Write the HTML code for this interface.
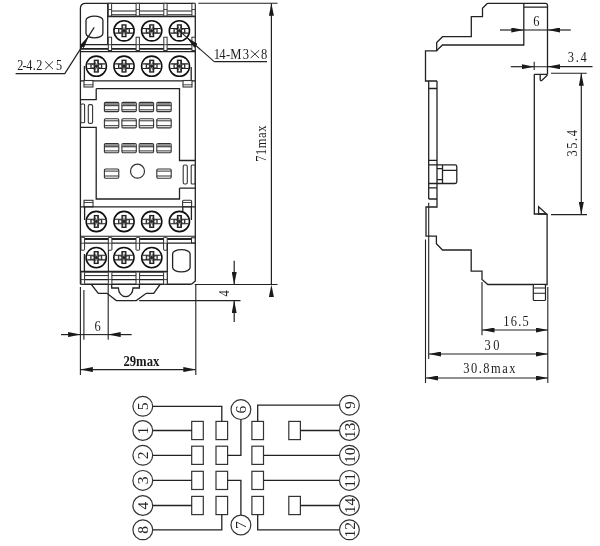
<!DOCTYPE html>
<html><head><meta charset="utf-8"><style>
html,body{margin:0;padding:0;background:#fff;}
body{width:600px;height:546px;overflow:hidden;}
svg{display:block;font-family:"Liberation Serif",serif;filter:grayscale(1);}
</style></head><body>
<svg width="600" height="546" viewBox="0 0 600 546">


<defs>
 
 
 
 <marker id="ar" viewBox="0 0 12.5 5" refX="12.5" refY="2.5" markerWidth="12.5" markerHeight="5" markerUnits="userSpaceOnUse" orient="auto">
  <path d="M0,0 L12.5,2.5 L0,5 Z" fill="#1a1a1a"/>
 </marker>
</defs>

<path d="M80.4,8.5 Q80.4,3.3 85.6,3.3 H193 Q195.3,3.3 195.3,5.6 V281 L191.5,284.2 M80.4,8.5 V284.3" fill="none" stroke="#222" stroke-width="1.3"/>
<path d="M107.7,3.3 V44.7" fill="none" stroke="#222" stroke-width="1.3"/>
<path d="M107.7,16.6 H195.3" fill="none" stroke="#222" stroke-width="1.4"/>
<path d="M111.5,11 H136 M139.5,11 H163.8 M167.2,11 H191.9" fill="none" stroke="#222" stroke-width="1.0"/>
<path d="M111.5,14.9 H136 M139.5,14.9 H163.8 M167.2,14.9 H191.9" fill="none" stroke="#222" stroke-width="1.4"/>
<rect x="108.3" y="3.3" width="3.3" height="12.7" fill="#fff" stroke="#333" stroke-width="1"/>
<path d="M108.3,9.5 H111.6" stroke="#333" stroke-width="0.9"/>
<rect x="136.1" y="3.3" width="3.3" height="12.7" fill="#fff" stroke="#333" stroke-width="1"/>
<path d="M136.1,9.5 H139.4" stroke="#333" stroke-width="0.9"/>
<rect x="163.8" y="3.3" width="3.3" height="12.7" fill="#fff" stroke="#333" stroke-width="1"/>
<path d="M163.8,9.5 H167.10000000000002" stroke="#333" stroke-width="0.9"/>
<rect x="191.9" y="3.3" width="3.3" height="12.7" fill="#fff" stroke="#333" stroke-width="1"/>
<path d="M191.9,9.5 H195.20000000000002" stroke="#333" stroke-width="0.9"/>
<g transform="translate(124.0,30.8)"><circle cx="0" cy="0" r="10.1" fill="#fff" stroke="#111" stroke-width="1.6"/>
  <path d="M-8.9,-2.3 H-2 M2,-2.3 H8.9 M-8.9,2.3 H-2 M2,2.3 H8.9" stroke="#1e1e1e" stroke-width="1.1"/>
  <path d="M-5.3,-2.3 V2.3 M5.3,-2.3 V2.3" stroke="#333" stroke-width="1.4"/>
  <rect x="-1.85" y="-5.85" width="3.7" height="11.6" fill="none" stroke="#1e1e1e" stroke-width="1.4"/>
  <path d="M-1.8,-5.6 L1.8,5.6 M1.8,-5.6 L-1.8,5.6 M-5.2,-2.2 L5.2,2.2 M5.2,-2.2 L-5.2,2.2" stroke="#333" stroke-width="0.8"/>
  <circle cx="0" cy="0" r="1.3" fill="#222"/></g>
<g transform="translate(151.7,30.8)"><circle cx="0" cy="0" r="10.1" fill="#fff" stroke="#111" stroke-width="1.6"/>
  <path d="M-8.9,-2.3 H-2 M2,-2.3 H8.9 M-8.9,2.3 H-2 M2,2.3 H8.9" stroke="#1e1e1e" stroke-width="1.1"/>
  <path d="M-5.3,-2.3 V2.3 M5.3,-2.3 V2.3" stroke="#333" stroke-width="1.4"/>
  <rect x="-1.85" y="-5.85" width="3.7" height="11.6" fill="none" stroke="#1e1e1e" stroke-width="1.4"/>
  <path d="M-1.8,-5.6 L1.8,5.6 M1.8,-5.6 L-1.8,5.6 M-5.2,-2.2 L5.2,2.2 M5.2,-2.2 L-5.2,2.2" stroke="#333" stroke-width="0.8"/>
  <circle cx="0" cy="0" r="1.3" fill="#222"/></g>
<g transform="translate(179.4,30.8)"><circle cx="0" cy="0" r="10.1" fill="#fff" stroke="#111" stroke-width="1.6"/>
  <path d="M-8.9,-2.3 H-2 M2,-2.3 H8.9 M-8.9,2.3 H-2 M2,2.3 H8.9" stroke="#1e1e1e" stroke-width="1.1"/>
  <path d="M-5.3,-2.3 V2.3 M5.3,-2.3 V2.3" stroke="#333" stroke-width="1.4"/>
  <rect x="-1.85" y="-5.85" width="3.7" height="11.6" fill="none" stroke="#1e1e1e" stroke-width="1.4"/>
  <path d="M-1.8,-5.6 L1.8,5.6 M1.8,-5.6 L-1.8,5.6 M-5.2,-2.2 L5.2,2.2 M5.2,-2.2 L-5.2,2.2" stroke="#333" stroke-width="0.8"/>
  <circle cx="0" cy="0" r="1.3" fill="#222"/></g>
<path d="M86,20.3 A8.45,4.2 0 0 1 102.9,20.3 V33.6 A8.45,4.2 0 0 1 86,33.6 Z" fill="none" stroke="#222" stroke-width="1.3"/>
<path d="M80.4,44.6 H195.3" fill="none" stroke="#222" stroke-width="1.1"/>
<path d="M80.4,48.8 H195.3" fill="none" stroke="#222" stroke-width="1.8"/>
<path d="M80.4,51.6 H195.3" fill="none" stroke="#222" stroke-width="1.1"/>
<rect x="108.3" y="37.2" width="3.3" height="13.3" fill="#fff" stroke="#333" stroke-width="1"/>
<path d="M108.3,44.7 H111.6" stroke="#333" stroke-width="0.9"/>
<rect x="136.1" y="37.2" width="3.3" height="13.3" fill="#fff" stroke="#333" stroke-width="1"/>
<path d="M136.1,44.7 H139.4" stroke="#333" stroke-width="0.9"/>
<rect x="163.8" y="37.2" width="3.3" height="13.3" fill="#fff" stroke="#333" stroke-width="1"/>
<path d="M163.8,44.7 H167.10000000000002" stroke="#333" stroke-width="0.9"/>
<rect x="191.9" y="37.2" width="3.3" height="13.3" fill="#fff" stroke="#333" stroke-width="1"/>
<path d="M191.9,44.7 H195.20000000000002" stroke="#333" stroke-width="0.9"/>
<g transform="translate(96.3,66.2)"><circle cx="0" cy="0" r="10.1" fill="#fff" stroke="#111" stroke-width="1.6"/>
  <path d="M-8.9,-2.3 H-2 M2,-2.3 H8.9 M-8.9,2.3 H-2 M2,2.3 H8.9" stroke="#1e1e1e" stroke-width="1.1"/>
  <path d="M-5.3,-2.3 V2.3 M5.3,-2.3 V2.3" stroke="#333" stroke-width="1.4"/>
  <rect x="-1.85" y="-5.85" width="3.7" height="11.6" fill="none" stroke="#1e1e1e" stroke-width="1.4"/>
  <path d="M-1.8,-5.6 L1.8,5.6 M1.8,-5.6 L-1.8,5.6 M-5.2,-2.2 L5.2,2.2 M5.2,-2.2 L-5.2,2.2" stroke="#333" stroke-width="0.8"/>
  <circle cx="0" cy="0" r="1.3" fill="#222"/></g>
<g transform="translate(124.0,66.2)"><circle cx="0" cy="0" r="10.1" fill="#fff" stroke="#111" stroke-width="1.6"/>
  <path d="M-8.9,-2.3 H-2 M2,-2.3 H8.9 M-8.9,2.3 H-2 M2,2.3 H8.9" stroke="#1e1e1e" stroke-width="1.1"/>
  <path d="M-5.3,-2.3 V2.3 M5.3,-2.3 V2.3" stroke="#333" stroke-width="1.4"/>
  <rect x="-1.85" y="-5.85" width="3.7" height="11.6" fill="none" stroke="#1e1e1e" stroke-width="1.4"/>
  <path d="M-1.8,-5.6 L1.8,5.6 M1.8,-5.6 L-1.8,5.6 M-5.2,-2.2 L5.2,2.2 M5.2,-2.2 L-5.2,2.2" stroke="#333" stroke-width="0.8"/>
  <circle cx="0" cy="0" r="1.3" fill="#222"/></g>
<g transform="translate(151.7,66.2)"><circle cx="0" cy="0" r="10.1" fill="#fff" stroke="#111" stroke-width="1.6"/>
  <path d="M-8.9,-2.3 H-2 M2,-2.3 H8.9 M-8.9,2.3 H-2 M2,2.3 H8.9" stroke="#1e1e1e" stroke-width="1.1"/>
  <path d="M-5.3,-2.3 V2.3 M5.3,-2.3 V2.3" stroke="#333" stroke-width="1.4"/>
  <rect x="-1.85" y="-5.85" width="3.7" height="11.6" fill="none" stroke="#1e1e1e" stroke-width="1.4"/>
  <path d="M-1.8,-5.6 L1.8,5.6 M1.8,-5.6 L-1.8,5.6 M-5.2,-2.2 L5.2,2.2 M5.2,-2.2 L-5.2,2.2" stroke="#333" stroke-width="0.8"/>
  <circle cx="0" cy="0" r="1.3" fill="#222"/></g>
<g transform="translate(179.4,66.2)"><circle cx="0" cy="0" r="10.1" fill="#fff" stroke="#111" stroke-width="1.6"/>
  <path d="M-8.9,-2.3 H-2 M2,-2.3 H8.9 M-8.9,2.3 H-2 M2,2.3 H8.9" stroke="#1e1e1e" stroke-width="1.1"/>
  <path d="M-5.3,-2.3 V2.3 M5.3,-2.3 V2.3" stroke="#333" stroke-width="1.4"/>
  <rect x="-1.85" y="-5.85" width="3.7" height="11.6" fill="none" stroke="#1e1e1e" stroke-width="1.4"/>
  <path d="M-1.8,-5.6 L1.8,5.6 M1.8,-5.6 L-1.8,5.6 M-5.2,-2.2 L5.2,2.2 M5.2,-2.2 L-5.2,2.2" stroke="#333" stroke-width="0.8"/>
  <circle cx="0" cy="0" r="1.3" fill="#222"/></g>
<path d="M84.4,66 V80.8 M80.4,80.8 H195.3 M191.2,67 V80.8" fill="none" stroke="#222" stroke-width="1.3"/>
<rect x="84" y="80.5" width="9" height="6.5" fill="#fff" stroke="#333" stroke-width="1.1"/>
<path d="M84,84.8 H93" stroke="#333" stroke-width="0.9"/>
<rect x="183" y="80.5" width="9" height="6.5" fill="#fff" stroke="#333" stroke-width="1.1"/>
<path d="M183,84.8 H192" stroke="#333" stroke-width="0.9"/>
<path d="M96.2,88.7 H179.5 V160.5 H195.3 M179.5,188.2 H195.3 M179.5,188.2 V199 H96.2 V127.4 H80.4 M96.2,88.7 V99.6 H80.4" fill="none" stroke="#222" stroke-width="1.3"/>
<rect x="80.8" y="104" width="3.8" height="18.8" rx="1" fill="#fff" stroke="#333" stroke-width="1.1"/>
<rect x="88.3" y="104.6" width="4.3" height="18.8" rx="1.5" fill="#fff" stroke="#333" stroke-width="1.1"/>
<rect x="183.2" y="165" width="4.1" height="19" rx="1.5" fill="#fff" stroke="#333" stroke-width="1.1"/>
<rect x="191.2" y="165" width="3.8" height="19" rx="1" fill="#fff" stroke="#333" stroke-width="1.1"/>
<g transform="translate(104.4,102.4)"><rect x="0" y="0" width="14.4" height="9.2" rx="1.2" fill="#fff" stroke="#333" stroke-width="1.1"/>
  <rect x="0.6" y="0.6" width="13.2" height="2.6" fill="#888"/>
  <path d="M0,3.3 H14.4 M0,7.4 H14.4" stroke="#333" stroke-width="1"/></g>
<g transform="translate(104.4,118.7)"><rect x="0" y="0" width="14.4" height="9.2" rx="1.2" fill="#fff" stroke="#333" stroke-width="1.1"/>
  <path d="M0,2.1 H14.4 M0,7.0 H14.4" stroke="#333" stroke-width="1"/></g>
<g transform="translate(104.4,143.5)"><rect x="0" y="0" width="14.4" height="9.2" rx="1.2" fill="#fff" stroke="#333" stroke-width="1.1"/>
  <rect x="0.6" y="0.6" width="13.2" height="2.6" fill="#888"/>
  <path d="M0,3.3 H14.4 M0,7.4 H14.4" stroke="#333" stroke-width="1"/></g>
<g transform="translate(121.9,102.4)"><rect x="0" y="0" width="14.4" height="9.2" rx="1.2" fill="#fff" stroke="#333" stroke-width="1.1"/>
  <rect x="0.6" y="0.6" width="13.2" height="2.6" fill="#888"/>
  <path d="M0,3.3 H14.4 M0,7.4 H14.4" stroke="#333" stroke-width="1"/></g>
<g transform="translate(121.9,118.7)"><rect x="0" y="0" width="14.4" height="9.2" rx="1.2" fill="#fff" stroke="#333" stroke-width="1.1"/>
  <path d="M0,2.1 H14.4 M0,7.0 H14.4" stroke="#333" stroke-width="1"/></g>
<g transform="translate(121.9,143.5)"><rect x="0" y="0" width="14.4" height="9.2" rx="1.2" fill="#fff" stroke="#333" stroke-width="1.1"/>
  <rect x="0.6" y="0.6" width="13.2" height="2.6" fill="#888"/>
  <path d="M0,3.3 H14.4 M0,7.4 H14.4" stroke="#333" stroke-width="1"/></g>
<g transform="translate(139.2,102.4)"><rect x="0" y="0" width="14.4" height="9.2" rx="1.2" fill="#fff" stroke="#333" stroke-width="1.1"/>
  <rect x="0.6" y="0.6" width="13.2" height="2.6" fill="#888"/>
  <path d="M0,3.3 H14.4 M0,7.4 H14.4" stroke="#333" stroke-width="1"/></g>
<g transform="translate(139.2,118.7)"><rect x="0" y="0" width="14.4" height="9.2" rx="1.2" fill="#fff" stroke="#333" stroke-width="1.1"/>
  <path d="M0,2.1 H14.4 M0,7.0 H14.4" stroke="#333" stroke-width="1"/></g>
<g transform="translate(139.2,143.5)"><rect x="0" y="0" width="14.4" height="9.2" rx="1.2" fill="#fff" stroke="#333" stroke-width="1.1"/>
  <rect x="0.6" y="0.6" width="13.2" height="2.6" fill="#888"/>
  <path d="M0,3.3 H14.4 M0,7.4 H14.4" stroke="#333" stroke-width="1"/></g>
<g transform="translate(156.8,102.4)"><rect x="0" y="0" width="14.4" height="9.2" rx="1.2" fill="#fff" stroke="#333" stroke-width="1.1"/>
  <rect x="0.6" y="0.6" width="13.2" height="2.6" fill="#888"/>
  <path d="M0,3.3 H14.4 M0,7.4 H14.4" stroke="#333" stroke-width="1"/></g>
<g transform="translate(156.8,118.7)"><rect x="0" y="0" width="14.4" height="9.2" rx="1.2" fill="#fff" stroke="#333" stroke-width="1.1"/>
  <path d="M0,2.1 H14.4 M0,7.0 H14.4" stroke="#333" stroke-width="1"/></g>
<g transform="translate(156.8,143.5)"><rect x="0" y="0" width="14.4" height="9.2" rx="1.2" fill="#fff" stroke="#333" stroke-width="1.1"/>
  <rect x="0.6" y="0.6" width="13.2" height="2.6" fill="#888"/>
  <path d="M0,3.3 H14.4 M0,7.4 H14.4" stroke="#333" stroke-width="1"/></g>
<g transform="translate(104.4,169)"><rect x="0" y="0" width="14.4" height="9.2" rx="1.2" fill="#fff" stroke="#333" stroke-width="1.1"/>
  <path d="M0,2.1 H14.4 M0,7.0 H14.4" stroke="#333" stroke-width="1"/></g>
<g transform="translate(156.8,169)"><rect x="0" y="0" width="14.4" height="9.2" rx="1.2" fill="#fff" stroke="#333" stroke-width="1.1"/>
  <path d="M0,2.1 H14.4 M0,7.0 H14.4" stroke="#333" stroke-width="1"/></g>
<circle cx="137.5" cy="171.2" r="7" fill="none" stroke="#333" stroke-width="1.2"/>
<rect x="84" y="200.3" width="9" height="6.5" fill="#fff" stroke="#333" stroke-width="1.1"/>
<path d="M84,202.5 H93" stroke="#333" stroke-width="0.9"/>
<rect x="182.6" y="200.3" width="9" height="6.5" rx="1" fill="#fff" stroke="#333" stroke-width="1.1"/>
<path d="M183,202.5 H192" stroke="#333" stroke-width="0.9"/>
<path d="M80.4,206.9 H195.3" fill="none" stroke="#222" stroke-width="1.3"/>
<path d="M84.6,206.9 V220 M191.4,206.9 V220 M182.8,206.9 V211.5" fill="none" stroke="#222" stroke-width="1.3"/>
<g transform="translate(96.3,221.5)"><circle cx="0" cy="0" r="10.1" fill="#fff" stroke="#111" stroke-width="1.6"/>
  <path d="M-8.9,-2.3 H-2 M2,-2.3 H8.9 M-8.9,2.3 H-2 M2,2.3 H8.9" stroke="#1e1e1e" stroke-width="1.1"/>
  <path d="M-5.3,-2.3 V2.3 M5.3,-2.3 V2.3" stroke="#333" stroke-width="1.4"/>
  <rect x="-1.85" y="-5.85" width="3.7" height="11.6" fill="none" stroke="#1e1e1e" stroke-width="1.4"/>
  <path d="M-1.8,-5.6 L1.8,5.6 M1.8,-5.6 L-1.8,5.6 M-5.2,-2.2 L5.2,2.2 M5.2,-2.2 L-5.2,2.2" stroke="#333" stroke-width="0.8"/>
  <circle cx="0" cy="0" r="1.3" fill="#222"/></g>
<g transform="translate(124.0,221.5)"><circle cx="0" cy="0" r="10.1" fill="#fff" stroke="#111" stroke-width="1.6"/>
  <path d="M-8.9,-2.3 H-2 M2,-2.3 H8.9 M-8.9,2.3 H-2 M2,2.3 H8.9" stroke="#1e1e1e" stroke-width="1.1"/>
  <path d="M-5.3,-2.3 V2.3 M5.3,-2.3 V2.3" stroke="#333" stroke-width="1.4"/>
  <rect x="-1.85" y="-5.85" width="3.7" height="11.6" fill="none" stroke="#1e1e1e" stroke-width="1.4"/>
  <path d="M-1.8,-5.6 L1.8,5.6 M1.8,-5.6 L-1.8,5.6 M-5.2,-2.2 L5.2,2.2 M5.2,-2.2 L-5.2,2.2" stroke="#333" stroke-width="0.8"/>
  <circle cx="0" cy="0" r="1.3" fill="#222"/></g>
<g transform="translate(151.7,221.5)"><circle cx="0" cy="0" r="10.1" fill="#fff" stroke="#111" stroke-width="1.6"/>
  <path d="M-8.9,-2.3 H-2 M2,-2.3 H8.9 M-8.9,2.3 H-2 M2,2.3 H8.9" stroke="#1e1e1e" stroke-width="1.1"/>
  <path d="M-5.3,-2.3 V2.3 M5.3,-2.3 V2.3" stroke="#333" stroke-width="1.4"/>
  <rect x="-1.85" y="-5.85" width="3.7" height="11.6" fill="none" stroke="#1e1e1e" stroke-width="1.4"/>
  <path d="M-1.8,-5.6 L1.8,5.6 M1.8,-5.6 L-1.8,5.6 M-5.2,-2.2 L5.2,2.2 M5.2,-2.2 L-5.2,2.2" stroke="#333" stroke-width="0.8"/>
  <circle cx="0" cy="0" r="1.3" fill="#222"/></g>
<g transform="translate(179.4,221.5)"><circle cx="0" cy="0" r="10.1" fill="#fff" stroke="#111" stroke-width="1.6"/>
  <path d="M-8.9,-2.3 H-2 M2,-2.3 H8.9 M-8.9,2.3 H-2 M2,2.3 H8.9" stroke="#1e1e1e" stroke-width="1.1"/>
  <path d="M-5.3,-2.3 V2.3 M5.3,-2.3 V2.3" stroke="#333" stroke-width="1.4"/>
  <rect x="-1.85" y="-5.85" width="3.7" height="11.6" fill="none" stroke="#1e1e1e" stroke-width="1.4"/>
  <path d="M-1.8,-5.6 L1.8,5.6 M1.8,-5.6 L-1.8,5.6 M-5.2,-2.2 L5.2,2.2 M5.2,-2.2 L-5.2,2.2" stroke="#333" stroke-width="0.8"/>
  <circle cx="0" cy="0" r="1.3" fill="#222"/></g>
<path d="M80.4,236.3 H195.3" fill="none" stroke="#222" stroke-width="1.1"/>
<path d="M80.4,238.9 H195.3" fill="none" stroke="#222" stroke-width="2.0"/>
<path d="M80.4,243.2 H195.3" fill="none" stroke="#222" stroke-width="1.2"/>
<rect x="81.0" y="237.3" width="3.6" height="12.9" rx="0.6" fill="#fff" stroke="#2a2a2a" stroke-width="1"/>
<path d="M81.0,243.2 H84.6" stroke="#333" stroke-width="0.9"/>
<rect x="108.3" y="237.3" width="3.6" height="12.9" rx="0.6" fill="#fff" stroke="#2a2a2a" stroke-width="1"/>
<path d="M108.3,243.2 H111.89999999999999" stroke="#333" stroke-width="0.9"/>
<rect x="136.0" y="237.3" width="3.6" height="12.9" rx="0.6" fill="#fff" stroke="#2a2a2a" stroke-width="1"/>
<path d="M136.0,243.2 H139.6" stroke="#333" stroke-width="0.9"/>
<rect x="163.6" y="237.3" width="3.6" height="12.9" rx="0.6" fill="#fff" stroke="#2a2a2a" stroke-width="1"/>
<path d="M163.6,243.2 H167.2" stroke="#333" stroke-width="0.9"/>
<rect x="191.5" y="237.8" width="3.6" height="5" fill="#fff" stroke="#2a2a2a" stroke-width="1"/>
<path d="M167.3,243.2 V284.3" fill="none" stroke="#222" stroke-width="1.3"/>
<g transform="translate(96.2,257.6)"><circle cx="0" cy="0" r="10.1" fill="#fff" stroke="#111" stroke-width="1.6"/>
  <path d="M-8.9,-2.3 H-2 M2,-2.3 H8.9 M-8.9,2.3 H-2 M2,2.3 H8.9" stroke="#1e1e1e" stroke-width="1.1"/>
  <path d="M-5.3,-2.3 V2.3 M5.3,-2.3 V2.3" stroke="#333" stroke-width="1.4"/>
  <rect x="-1.85" y="-5.85" width="3.7" height="11.6" fill="none" stroke="#1e1e1e" stroke-width="1.4"/>
  <path d="M-1.8,-5.6 L1.8,5.6 M1.8,-5.6 L-1.8,5.6 M-5.2,-2.2 L5.2,2.2 M5.2,-2.2 L-5.2,2.2" stroke="#333" stroke-width="0.8"/>
  <circle cx="0" cy="0" r="1.3" fill="#222"/></g>
<g transform="translate(123.9,257.6)"><circle cx="0" cy="0" r="10.1" fill="#fff" stroke="#111" stroke-width="1.6"/>
  <path d="M-8.9,-2.3 H-2 M2,-2.3 H8.9 M-8.9,2.3 H-2 M2,2.3 H8.9" stroke="#1e1e1e" stroke-width="1.1"/>
  <path d="M-5.3,-2.3 V2.3 M5.3,-2.3 V2.3" stroke="#333" stroke-width="1.4"/>
  <rect x="-1.85" y="-5.85" width="3.7" height="11.6" fill="none" stroke="#1e1e1e" stroke-width="1.4"/>
  <path d="M-1.8,-5.6 L1.8,5.6 M1.8,-5.6 L-1.8,5.6 M-5.2,-2.2 L5.2,2.2 M5.2,-2.2 L-5.2,2.2" stroke="#333" stroke-width="0.8"/>
  <circle cx="0" cy="0" r="1.3" fill="#222"/></g>
<g transform="translate(151.8,257.6)"><circle cx="0" cy="0" r="10.1" fill="#fff" stroke="#111" stroke-width="1.6"/>
  <path d="M-8.9,-2.3 H-2 M2,-2.3 H8.9 M-8.9,2.3 H-2 M2,2.3 H8.9" stroke="#1e1e1e" stroke-width="1.1"/>
  <path d="M-5.3,-2.3 V2.3 M5.3,-2.3 V2.3" stroke="#333" stroke-width="1.4"/>
  <rect x="-1.85" y="-5.85" width="3.7" height="11.6" fill="none" stroke="#1e1e1e" stroke-width="1.4"/>
  <path d="M-1.8,-5.6 L1.8,5.6 M1.8,-5.6 L-1.8,5.6 M-5.2,-2.2 L5.2,2.2 M5.2,-2.2 L-5.2,2.2" stroke="#333" stroke-width="0.8"/>
  <circle cx="0" cy="0" r="1.3" fill="#222"/></g>
<path d="M84.4,254 V271.5" fill="none" stroke="#222" stroke-width="1.3"/>
<path d="M108.4,250 V271.5" fill="none" stroke="#222" stroke-width="1.1"/>
<path d="M172.6,253.8 A8.75,4.2 0 0 1 190.1,253.8 V267.6 A8.75,4.2 0 0 1 172.6,267.6 Z" fill="none" stroke="#222" stroke-width="1.3"/>
<path d="M80.4,271.8 H167.3" fill="none" stroke="#222" stroke-width="2.0"/>
<path d="M80.4,275.6 H167.3" fill="none" stroke="#222" stroke-width="1.0"/>
<path d="M80.4,279.6 H167.3" fill="none" stroke="#222" stroke-width="1.2"/>
<path d="M80.4,284.2 H191.5" fill="none" stroke="#222" stroke-width="1.4"/>
<rect x="81.0" y="272" width="3.6" height="12.2" rx="0.6" fill="#fff" stroke="#2a2a2a" stroke-width="1"/>
<path d="M81.0,279.6 H84.6" stroke="#333" stroke-width="0.9"/>
<rect x="108.3" y="272" width="3.6" height="12.2" rx="0.6" fill="#fff" stroke="#2a2a2a" stroke-width="1"/>
<path d="M108.3,279.6 H111.89999999999999" stroke="#333" stroke-width="0.9"/>
<rect x="136.0" y="272" width="3.6" height="12.2" rx="0.6" fill="#fff" stroke="#2a2a2a" stroke-width="1"/>
<path d="M136.0,279.6 H139.6" stroke="#333" stroke-width="0.9"/>
<rect x="163.6" y="272" width="3.6" height="12.2" rx="0.6" fill="#fff" stroke="#2a2a2a" stroke-width="1"/>
<path d="M163.6,279.6 H167.2" stroke="#333" stroke-width="0.9"/>
<path d="M91.7,284.3 V285 L98.3,293.3 H107 L116.3,300.6 H136.3 L146.3,293.3 H153.7 L159.7,285 V284.3" fill="none" stroke="#222" stroke-width="1.3"/>
<path d="M111.7,284.3 V288 H118.4 A7.3,8.6 0 0 0 133,288 H139.4 V284.3" fill="none" stroke="#222" stroke-width="1.3"/>
<path d="M198.3,3.3 H277.5" fill="none" stroke="#222" stroke-width="1.1"/>
<path d="M194.7,284.5 H277.5" fill="none" stroke="#222" stroke-width="1.1"/>
<path d="M271.4,284.5 V3.3" fill="none" stroke="#222" stroke-width="1.2" marker-end="url(#ar)" marker-start="url(#ar)"/>
<text transform="translate(265.6,161.70000000000002) rotate(-90) scale(0.86,1)" font-family="Liberation Serif" font-size="14.5" fill="#1e1e1e" textLength="41.98" lengthAdjust="spacing">71max</text>
<path d="M139.2,300.6 H240.5" fill="none" stroke="#222" stroke-width="1.1"/>
<path d="M234.2,260.8 V284.5" fill="none" stroke="#222" stroke-width="1.2" marker-end="url(#ar)"/>
<path d="M234.2,322 V300.6" fill="none" stroke="#222" stroke-width="1.2" marker-end="url(#ar)"/>
<text transform="translate(229.2,296.59999999999997) rotate(-90) scale(0.86,1)" font-family="Liberation Serif" font-size="14.5" fill="#1e1e1e" textLength="8.14" lengthAdjust="spacing">4</text>
<path d="M80.4,287 V375 M83.9,290 V339.7 M108.2,284.3 V339.7" fill="none" stroke="#222" stroke-width="1.1"/>
<path d="M61,334.6 H80.6" fill="none" stroke="#222" stroke-width="1.2" marker-end="url(#ar)"/>
<path d="M131.7,334.6 H108.2" fill="none" stroke="#222" stroke-width="1.2" marker-end="url(#ar)"/>
<path d="M80.6,334.6 H108.2" fill="none" stroke="#222" stroke-width="1.1"/>
<text transform="translate(94.6,330.8) scale(0.86,1)" font-family="Liberation Serif" font-size="14.5" font-weight="normal" fill="#1e1e1e" textLength="8.14" lengthAdjust="spacing">6</text>
<path d="M195.8,284.5 V375" fill="none" stroke="#222" stroke-width="1.1"/>
<path d="M138,369.6 H80.4" fill="none" stroke="#222" stroke-width="1.2" marker-end="url(#ar)"/>
<path d="M138,369.6 H195.8" fill="none" stroke="#222" stroke-width="1.2" marker-end="url(#ar)"/>
<text x="123.4" y="365.7" font-family="Liberation Serif" font-size="14" font-weight="bold" fill="#1a1a1a" textLength="36" lengthAdjust="spacingAndGlyphs">29max</text>
<path d="M214.2,61.6 L179.4,30.8" fill="none" stroke="#222" stroke-width="1.1"/>
<path d="M200,49.4 L186.8,37.6" fill="none" stroke="#222" stroke-width="1" marker-end="url(#ar)"/>
<path d="M214.2,61.6 H267" fill="none" stroke="#222" stroke-width="1.2"/>
<text transform="translate(216.95,58.7) scale(0.84,1)" text-anchor="middle" font-family="Liberation Serif" font-size="15" fill="#1e1e1e">1</text>
<text transform="translate(222.50,58.7) scale(0.84,1)" text-anchor="middle" font-family="Liberation Serif" font-size="15" fill="#1e1e1e">4</text>
<text transform="translate(228.05,58.7) scale(0.84,1)" text-anchor="middle" font-family="Liberation Serif" font-size="15" fill="#1e1e1e">-</text>
<text transform="translate(235.90,58.7) scale(0.84,1)" text-anchor="middle" font-family="Liberation Serif" font-size="15" fill="#1e1e1e">M</text>
<text transform="translate(245.85,58.7) scale(0.84,1)" text-anchor="middle" font-family="Liberation Serif" font-size="15" fill="#1e1e1e">3</text>
<text transform="translate(264.20,58.7) scale(0.84,1)" text-anchor="middle" font-family="Liberation Serif" font-size="15" fill="#1e1e1e">8</text>
<path d="M250.7,50.3 L259.1,58 M259.1,50.3 L250.7,58" fill="none" stroke="#333" stroke-width="1.0"/>
<path d="M15.6,73.6 H64.8 L94.2,27.4" fill="none" stroke="#222" stroke-width="1.2"/>
<path d="M80.6,48.8 L88.5,36.2" fill="none" stroke="#222" stroke-width="1" marker-end="url(#ar)"/>
<text transform="translate(20.20,69.6) scale(0.84,1)" text-anchor="middle" font-family="Liberation Serif" font-size="14.5" fill="#1e1e1e">2</text>
<text transform="translate(24.60,69.6) scale(0.84,1)" text-anchor="middle" font-family="Liberation Serif" font-size="14.5" fill="#1e1e1e">-</text>
<text transform="translate(29.25,69.6) scale(0.84,1)" text-anchor="middle" font-family="Liberation Serif" font-size="14.5" fill="#1e1e1e">4</text>
<text transform="translate(34.20,69.6) scale(0.84,1)" text-anchor="middle" font-family="Liberation Serif" font-size="14.5" fill="#1e1e1e">.</text>
<text transform="translate(39.20,69.6) scale(0.84,1)" text-anchor="middle" font-family="Liberation Serif" font-size="14.5" fill="#1e1e1e">2</text>
<text transform="translate(59.00,69.6) scale(0.84,1)" text-anchor="middle" font-family="Liberation Serif" font-size="14.5" fill="#1e1e1e">5</text>
<path d="M45.2,61.4 L53,69.2 M53,61.4 L45.2,69.2" fill="none" stroke="#333" stroke-width="1.0"/>
<path d="M487.5,3.3 H545.5 Q547.5,3.3 547.5,5.3 V74.2 M487.5,3.3 L482.5,8.3 V16.7 H471.3 V36.7 H442.5 L436.7,42.5 V50.8 H425.5 V81 H437 M428.7,81 V199 M437,81 V207 H426 V236.2 H436.4 V243.7 L442.5,250 H471.2 V271.2 H482 V279.5 L487.8,284.5 H547.1 V214" fill="none" stroke="#222" stroke-width="1.3"/>
<path d="M436.7,50.4 L442.5,45 H523.8 V3.3 M523.8,7.2 H547.5" fill="none" stroke="#222" stroke-width="1.3"/>
<path d="M428.7,88.5 H437 M428.7,160.4 H437 M428.7,164.8 H437 M428.7,183.5 H437 M428.7,187.9 H437 M428.7,199 H437" fill="none" stroke="#222" stroke-width="1.3"/>
<path d="M437,164.8 H455 Q456.8,164.8 456.8,166.6 V181.7 Q456.8,183.5 455,183.5 H437 M442.5,164.8 V183.5 M442.5,170.3 H456.8 M437,168.7 H442.5 M437,179.7 H442.5" fill="none" stroke="#222" stroke-width="1.3"/>
<path d="M534.3,74.3 H547.5 M534.3,74.3 V214 H547.1" fill="none" stroke="#222" stroke-width="1.3"/>
<path d="M540.2,74.5 V79.4 Q540.2,80.9 541.8,80.5 L547.5,75" fill="none" stroke="#222" stroke-width="1.3"/>
<path d="M538.6,206.8 L546.6,214 H538.6 Z" fill="none" stroke="#222" stroke-width="1.3"/>
<rect x="533.3" y="284.5" width="12.2" height="16" rx="1" fill="#fff" stroke="#222" stroke-width="1.2"/>
<path d="M533.3,288 H545.5 M533.3,293.2 H545.5" fill="none" stroke="#222" stroke-width="1.1"/>
<path d="M425.5,239.5 V383 M428.7,202.7 V359 M482,282 V335.3 M547.8,287 V383" fill="none" stroke="#222" stroke-width="1.1"/>
<path d="M551,73.3 H586.7 M551,214.6 H587" fill="none" stroke="#222" stroke-width="1.1"/>
<path d="M500,30 H523.8" fill="none" stroke="#222" stroke-width="1.2" marker-end="url(#ar)"/>
<path d="M570.8,30 H547.5" fill="none" stroke="#222" stroke-width="1.2" marker-end="url(#ar)"/>
<path d="M523.8,30 H547.5" fill="none" stroke="#222" stroke-width="1.1"/>
<text transform="translate(533.3000000000001,25.8) scale(0.86,1)" font-family="Liberation Serif" font-size="14.5" font-weight="normal" fill="#1e1e1e" textLength="8.49" lengthAdjust="spacing">6</text>
<path d="M534.2,61.7 V70 M534.2,66.7 H547.5" fill="none" stroke="#222" stroke-width="1.1"/>
<path d="M510.8,66.7 H534.2" fill="none" stroke="#222" stroke-width="1.2" marker-end="url(#ar)"/>
<path d="M592.5,66.7 H547.5" fill="none" stroke="#222" stroke-width="1.2" marker-end="url(#ar)"/>
<text transform="translate(567.8000000000001,62.0) scale(0.86,1)" font-family="Liberation Serif" font-size="14.5" font-weight="normal" fill="#1e1e1e" textLength="21.98" lengthAdjust="spacing">3.4</text>
<path d="M581.3,144 V73.3" fill="none" stroke="#222" stroke-width="1.2" marker-end="url(#ar)"/>
<path d="M581.3,144 V214.6" fill="none" stroke="#222" stroke-width="1.2" marker-end="url(#ar)"/>
<text transform="translate(577.0,156.6) rotate(-90) scale(0.86,1)" font-family="Liberation Serif" font-size="14.5" fill="#1e1e1e" textLength="30.81" lengthAdjust="spacing">35.4</text>
<path d="M515,330 H482" fill="none" stroke="#222" stroke-width="1.2" marker-end="url(#ar)"/>
<path d="M515,330 H548" fill="none" stroke="#222" stroke-width="1.2" marker-end="url(#ar)"/>
<text transform="translate(503.3,326.0) scale(0.86,1)" font-family="Liberation Serif" font-size="14.5" font-weight="normal" fill="#1e1e1e" textLength="29.53" lengthAdjust="spacing">16.5</text>
<path d="M488,354 H428.7" fill="none" stroke="#222" stroke-width="1.2" marker-end="url(#ar)"/>
<path d="M488,354 H548" fill="none" stroke="#222" stroke-width="1.2" marker-end="url(#ar)"/>
<text transform="translate(484.6,350.0) scale(0.86,1)" font-family="Liberation Serif" font-size="14.5" font-weight="normal" fill="#1e1e1e" textLength="17.21" lengthAdjust="spacing">30</text>
<path d="M487,378 H425.5" fill="none" stroke="#222" stroke-width="1.2" marker-end="url(#ar)"/>
<path d="M487,378 H548" fill="none" stroke="#222" stroke-width="1.2" marker-end="url(#ar)"/>
<text transform="translate(463.3,373.3) scale(0.86,1)" font-family="Liberation Serif" font-size="14.5" font-weight="normal" fill="#1e1e1e" textLength="60.58" lengthAdjust="spacing">30.8max</text>
<rect x="191.7" y="421.4" width="11.6" height="18.2" fill="#fff" stroke="#333" stroke-width="1.2"/>
<rect x="216.0" y="421.4" width="11.6" height="18.2" fill="#fff" stroke="#333" stroke-width="1.2"/>
<rect x="251.9" y="421.4" width="11.6" height="18.2" fill="#fff" stroke="#333" stroke-width="1.2"/>
<rect x="191.7" y="446.2" width="11.6" height="18.2" fill="#fff" stroke="#333" stroke-width="1.2"/>
<rect x="216.0" y="446.2" width="11.6" height="18.2" fill="#fff" stroke="#333" stroke-width="1.2"/>
<rect x="251.9" y="446.2" width="11.6" height="18.2" fill="#fff" stroke="#333" stroke-width="1.2"/>
<rect x="191.7" y="471.3" width="11.6" height="18.2" fill="#fff" stroke="#333" stroke-width="1.2"/>
<rect x="216.0" y="471.3" width="11.6" height="18.2" fill="#fff" stroke="#333" stroke-width="1.2"/>
<rect x="251.9" y="471.3" width="11.6" height="18.2" fill="#fff" stroke="#333" stroke-width="1.2"/>
<rect x="191.7" y="496.4" width="11.6" height="18.2" fill="#fff" stroke="#333" stroke-width="1.2"/>
<rect x="216.0" y="496.4" width="11.6" height="18.2" fill="#fff" stroke="#333" stroke-width="1.2"/>
<rect x="251.9" y="496.4" width="11.6" height="18.2" fill="#fff" stroke="#333" stroke-width="1.2"/>
<rect x="288.8" y="421.4" width="11.6" height="18.2" fill="#fff" stroke="#333" stroke-width="1.2"/>
<rect x="288.8" y="496.4" width="11.6" height="18.2" fill="#fff" stroke="#333" stroke-width="1.2"/>
<path d="M152.20000000000002,406.3 H221.8 V421.4" fill="none" stroke="#222" stroke-width="1.3"/>
<path d="M152.20000000000002,430.5 H191.7 M152.20000000000002,455.3 H191.7 M152.20000000000002,480.4 H191.7 M152.20000000000002,505.5 H191.7" fill="none" stroke="#222" stroke-width="1.3"/>
<path d="M152.20000000000002,529.8 H221.8 V514.6" fill="none" stroke="#222" stroke-width="1.3"/>
<path d="M240.9,419 V455.3 H227.6 M240.9,515.4 V480.4 H227.6" fill="none" stroke="#222" stroke-width="1.3"/>
<path d="M340.0,405.2 H257.7 V421.4 M340.0,430.5 H300.4 M340.0,455.3 H263.5 M340.0,480.4 H263.5 M340.0,505.5 H300.4 M340.0,529.8 H257.7 V514.6" fill="none" stroke="#222" stroke-width="1.3"/>
<circle cx="142.8" cy="406.3" r="9.9" fill="#fff" stroke="#333" stroke-width="1.2"/>
<text transform="translate(148.0,406.3) rotate(-90)" font-family="Liberation Serif" font-size="15.5" text-anchor="middle" fill="#222">5</text>
<circle cx="142.8" cy="430.5" r="9.9" fill="#fff" stroke="#333" stroke-width="1.2"/>
<text transform="translate(148.0,430.5) rotate(-90)" font-family="Liberation Serif" font-size="15.5" text-anchor="middle" fill="#222">1</text>
<circle cx="142.8" cy="455.3" r="9.9" fill="#fff" stroke="#333" stroke-width="1.2"/>
<text transform="translate(148.0,455.3) rotate(-90)" font-family="Liberation Serif" font-size="15.5" text-anchor="middle" fill="#222">2</text>
<circle cx="142.8" cy="480.4" r="9.9" fill="#fff" stroke="#333" stroke-width="1.2"/>
<text transform="translate(148.0,480.4) rotate(-90)" font-family="Liberation Serif" font-size="15.5" text-anchor="middle" fill="#222">3</text>
<circle cx="142.8" cy="505.5" r="9.9" fill="#fff" stroke="#333" stroke-width="1.2"/>
<text transform="translate(148.0,505.5) rotate(-90)" font-family="Liberation Serif" font-size="15.5" text-anchor="middle" fill="#222">4</text>
<circle cx="142.8" cy="529.8" r="9.9" fill="#fff" stroke="#333" stroke-width="1.2"/>
<text transform="translate(148.0,529.8) rotate(-90)" font-family="Liberation Serif" font-size="15.5" text-anchor="middle" fill="#222">8</text>
<circle cx="240.9" cy="409.6" r="9.9" fill="#fff" stroke="#333" stroke-width="1.2"/>
<text transform="translate(246.1,409.6) rotate(-90)" font-family="Liberation Serif" font-size="15.5" text-anchor="middle" fill="#222">6</text>
<circle cx="240.9" cy="525" r="9.9" fill="#fff" stroke="#333" stroke-width="1.2"/>
<text transform="translate(246.1,525) rotate(-90)" font-family="Liberation Serif" font-size="15.5" text-anchor="middle" fill="#222">7</text>
<circle cx="349.4" cy="405.2" r="9.9" fill="#fff" stroke="#333" stroke-width="1.2"/>
<text transform="translate(354.59999999999997,405.2) rotate(-90)" font-family="Liberation Serif" font-size="15.5" text-anchor="middle" fill="#222">9</text>
<circle cx="349.4" cy="430.5" r="9.9" fill="#fff" stroke="#333" stroke-width="1.2"/>
<text transform="translate(354.59999999999997,430.5) rotate(-90)" font-family="Liberation Serif" font-size="15.5" text-anchor="middle" fill="#222">13</text>
<circle cx="349.4" cy="455.3" r="9.9" fill="#fff" stroke="#333" stroke-width="1.2"/>
<text transform="translate(354.59999999999997,455.3) rotate(-90)" font-family="Liberation Serif" font-size="15.5" text-anchor="middle" fill="#222">10</text>
<circle cx="349.4" cy="480.4" r="9.9" fill="#fff" stroke="#333" stroke-width="1.2"/>
<text transform="translate(354.59999999999997,480.4) rotate(-90)" font-family="Liberation Serif" font-size="15.5" text-anchor="middle" fill="#222">11</text>
<circle cx="349.4" cy="505.5" r="9.9" fill="#fff" stroke="#333" stroke-width="1.2"/>
<text transform="translate(354.59999999999997,505.5) rotate(-90)" font-family="Liberation Serif" font-size="15.5" text-anchor="middle" fill="#222">14</text>
<circle cx="349.4" cy="529.8" r="9.9" fill="#fff" stroke="#333" stroke-width="1.2"/>
<text transform="translate(354.59999999999997,529.8) rotate(-90)" font-family="Liberation Serif" font-size="15.5" text-anchor="middle" fill="#222">12</text>
</svg>
</body></html>
